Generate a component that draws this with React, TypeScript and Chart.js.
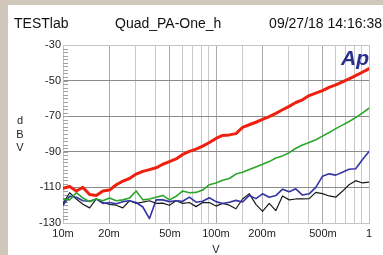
import { useEffect, useRef } from 'react';
import { Chart, registerables } from 'chart.js';

Chart.register(...registerables);

// Input amplitude (V) sample points, 10m .. 1
const voltages = [
  0.01, 0.01105, 0.01222, 0.0135, 0.01492, 0.0165, 0.01823, 0.02015, 0.02227, 0.02462,
  0.02721, 0.03008, 0.03325, 0.03675, 0.04062, 0.04489, 0.04962, 0.05484, 0.06062, 0.067,
  0.07406, 0.08185, 0.09047, 0.1, 0.1105, 0.1222, 0.135, 0.1492, 0.165, 0.1823,
  0.2015, 0.2227, 0.2462, 0.2721, 0.3008, 0.3325, 0.3675, 0.4062, 0.4489, 0.4962,
  0.5484, 0.6062, 0.67, 0.7406, 0.8185, 0.9047, 1.0,
];

const redDbv = [
  -110.5, -109.5, -112, -110, -114, -114.5, -112, -111.5, -108.5, -106.5,
  -105, -102.5, -101, -100, -99, -97, -95.5, -94, -91.5, -89.8,
  -88.5, -86.8, -84.8, -82.5, -80.8, -80.5, -79.8, -76.3, -74.8, -73.4,
  -71.8, -70.2, -68.4, -66.4, -64.5, -62.3, -60.8, -58.4, -57, -55.6,
  -53.8, -52.4, -50.7, -49, -47.2, -45.3, -43.3,
];

const greenDbv = [
  -116.5, -117, -113, -116, -118, -116.5, -117.5, -116, -117.5, -117,
  -116, -112, -117, -116.5, -115.5, -114.5, -117, -115, -112, -113,
  -112.8, -111.5, -108.5, -107.5, -106, -105, -102.5, -101.5, -100, -98.5,
  -97, -95.5, -93.5, -92.3, -90.5, -88, -86.2, -84.8, -83.2, -81.2,
  -79.2, -77, -75, -73, -70.8, -68.3, -65.5,
];

const blueDbv = [
  -120, -115, -115.5, -117.5, -117.8, -116.5, -119, -118.5, -119.2, -118,
  -117.5, -118.5, -121, -127.5, -117, -117, -118, -117.5, -117.8, -115.5,
  -118.3, -117.8, -115.8, -118, -119, -118.3, -117.3, -118.2, -114.5, -116.3,
  -113.6, -115.5, -114.6, -111, -112.5, -110.8, -114.3, -113.6, -110, -103.8,
  -102.4, -103.1, -101.5, -99.8, -99.5, -94.5, -89.8,
];

const blackDbv = [
  -119, -113, -116.5, -119.5, -121.5, -116.5, -118.5, -119.5, -120, -121.5,
  -117.5, -119, -118.3, -117.5, -119, -118.8, -120, -117.5, -119, -118.5,
  -120.8, -118.5, -118.5, -120.5, -119, -120, -122, -116.5, -113.5, -119.5,
  -123.5, -119, -123, -114.8, -117, -116.5, -116.4, -116.3, -112.8, -113.5,
  -114.8, -115.5, -112.2, -108.5, -106.2, -107.5, -107,
];

const xLabelValues = [0.01, 0.02, 0.05, 0.1, 0.2, 0.5, 1];
const xLabelTexts = ['10m', '20m', '50m', '100m', '200m', '500m', '1'];
const yMajorValues = [-30, -50, -70, -90, -110, -130];

const headerLeft = 'TESTlab';
const headerMid = 'Quad_PA-One_h';
const headerRight = '09/27/18 14:16:38';
const yTitleLetters = ['d', 'B', 'V'];
const xTitle = 'V';
const logoText = 'Ap';

const NARROW = '"Liberation Sans Narrow", "Liberation Sans", Arial, sans-serif';
const SANS = '"Liberation Sans", Arial, sans-serif';

function labelFor(v: number): string {
  for (let i = 0; i < xLabelValues.length; i++) {
    if (Math.abs(v - xLabelValues[i]) / xLabelValues[i] < 1e-6) return xLabelTexts[i];
  }
  return '';
}

const decorPlugin = {
  id: 'decor',
  beforeDraw(chart: any) {
    const { ctx, width, height } = chart;
    ctx.save();
    ctx.fillStyle = '#cec7ba';
    ctx.fillRect(0, 0, width, height);
    ctx.fillStyle = '#ffffff';
    ctx.fillRect(8, 5, width - 8, height - 5);
    ctx.fillStyle = '#111';
    ctx.font = `14px ${SANS}`;
    ctx.textBaseline = 'alphabetic';
    ctx.textAlign = 'left';
    ctx.fillText(headerLeft, 14, 28);
    ctx.fillText(headerMid, 115, 28);
    ctx.textAlign = 'right';
    ctx.fillText(headerRight, 382, 28);
    ctx.font = `11px ${SANS}`;
    ctx.textAlign = 'center';
    ctx.textBaseline = 'middle';
    ctx.fillStyle = '#222';
    yTitleLetters.forEach((ch, i) => ctx.fillText(ch, 20, 121 + i * 13.5));
    ctx.font = `11px ${NARROW}`;
    ctx.fillText(xTitle, 216, 250);
    ctx.restore();
  },
  beforeDatasetsDraw(chart: any) {
    const { ctx, chartArea, scales } = chart;
    const y = scales.y;
    ctx.save();
    ctx.strokeStyle = '#a0a0a0';
    ctx.lineWidth = 1;
    ctx.beginPath();
    for (let v = -128; v < -30; v += 2) {
      const py = Math.round(y.getPixelForValue(v)) + 0.5;
      ctx.moveTo(chartArea.left, py);
      ctx.lineTo(chartArea.left + 5, py);
    }
    ctx.stroke();
    ctx.restore();
  },
  afterDraw(chart: any) {
    const { ctx } = chart;
    ctx.save();
    ctx.fillStyle = '#2a2f8c';
    ctx.font = `italic bold 21px ${SANS}`;
    ctx.textAlign = 'right';
    ctx.textBaseline = 'alphabetic';
    ctx.fillText(logoText, 369, 65);
    ctx.restore();
  },
};

export default function App() {
  const ref = useRef<HTMLCanvasElement | null>(null);

  useEffect(() => {
    document.body.style.margin = '0';
    const canvas = ref.current;
    if (!canvas) return;
    const mk = (vals: number[]) => vals.map((v, i) => ({ x: voltages[i], y: v }));
    const chart = new Chart(canvas, {
      type: 'line',
      data: {
        datasets: [
          { label: 'red', data: mk(redDbv), borderColor: '#f0200f', borderWidth: 3, pointRadius: 0, tension: 0 },
          { label: 'green', data: mk(greenDbv), borderColor: '#2aa52a', borderWidth: 1.6, pointRadius: 0, tension: 0 },
          { label: 'blue', data: mk(blueDbv), borderColor: '#3434a6', borderWidth: 1.6, pointRadius: 0, tension: 0 },
          { label: 'black', data: mk(blackDbv), borderColor: '#1a1a1a', borderWidth: 1.2, pointRadius: 0, tension: 0 },
        ],
      },
      options: {
        animation: false,
        responsive: false,
        devicePixelRatio: 1,
        layout: { padding: { top: 45, right: 14, bottom: 0, left: 0 } },
        plugins: { legend: { display: false }, tooltip: { enabled: false }, title: { display: false } },
        elements: { line: { borderJoinStyle: 'round', borderCapStyle: 'round' } },
        scales: {
          x: {
            type: 'logarithmic',
            min: 0.01,
            max: 1,
            afterFit: (s: any) => { s.height = 32; },
            border: { display: true, color: '#c4c4c4' },
            grid: {
              drawTicks: false,
              color: (c: any) => {
                const v = c.tick ? c.tick.value : 0;
                if (Math.abs(v - 0.01) < 1e-9 || Math.abs(v - 1) < 1e-9) return '#c4c4c4';
                return labelFor(v) ? '#aaaaaa' : '#c8c8c8';
              },
            },
            ticks: {
              autoSkip: false,
              maxRotation: 0,
              padding: 4,
              color: '#222',
              font: { family: NARROW, size: 11 },
              callback: (v: any) => labelFor(Number(v)),
            },
          },
          y: {
            type: 'linear',
            min: -130,
            max: -30,
            afterFit: (s: any) => { s.width = 63; },
            border: { display: true, color: '#c4c4c4' },
            grid: {
              drawTicks: false,
              color: (c: any) => {
                const v = c.tick ? c.tick.value : 0;
                if (v === -30 || v === -130) return '#c4c4c4';
                return '#8c8c8c';
              },
            },
            ticks: {
              stepSize: 20,
              padding: 2,
              color: '#222',
              font: { family: NARROW, size: 11 },
              callback: (v: any) => (yMajorValues.includes(Number(v)) ? String(v) : ''),
            },
          },
        },
      },
      plugins: [decorPlugin],
    });
    return () => chart.destroy();
  }, []);

  return (
    <div style={{ width: 383, height: 255, position: 'relative' }}>
      <canvas ref={ref} width={383} height={255} style={{ display: 'block', width: 383, height: 255 }} />
    </div>
  );
}
